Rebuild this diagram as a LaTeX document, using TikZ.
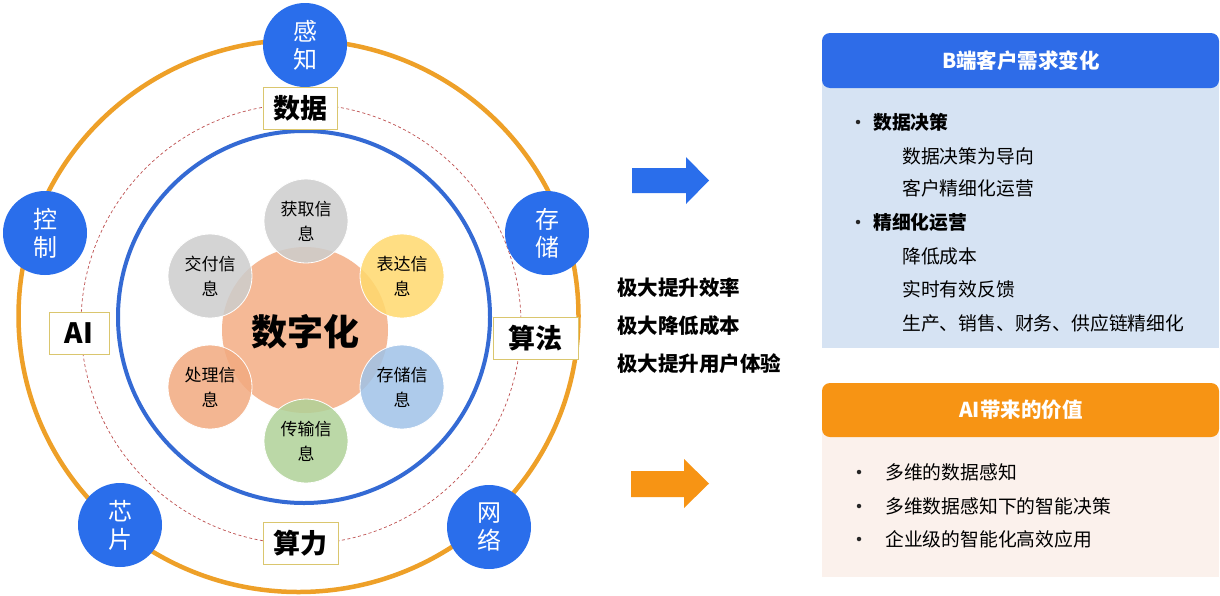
\documentclass[tikz,border=0pt]{standalone}
\usepackage{fontspec}
\setmainfont{Noto Sans CJK SC}
\definecolor{nodeblue}{RGB}{42,110,235}
\definecolor{ringblue}{RGB}{52,106,212}
\definecolor{ringorange}{RGB}{238,160,40}
\definecolor{dashred}{RGB}{190,80,80}
\definecolor{boxgold}{RGB}{218,198,110}
\definecolor{bigsalmon}{RGB}{245,185,150}
\definecolor{cgray}{RGB}{205,205,205}
\definecolor{cyellow}{RGB}{255,217,110}
\definecolor{cblue}{RGB}{160,195,232}
\definecolor{cgreen}{RGB}{176,210,152}
\definecolor{csalmon}{RGB}{242,170,128}
\definecolor{panelblue}{RGB}{46,108,232}
\definecolor{panelbluebody}{RGB}{214,227,243}
\definecolor{panelorange}{RGB}{247,148,20}
\definecolor{panelorangebody}{RGB}{251,241,236}
\begin{document}
\begin{tikzpicture}[x=1pt,y=-1pt,
  bluenode/.style={circle,fill=nodeblue,minimum size=84pt,inner sep=0pt,text=white,align=center,font=\fontsize{24}{28}\selectfont},
  labelbox/.style={rectangle,draw=boxgold,line width=1pt,fill=white,minimum height=42pt,inner sep=0pt,font=\fontsize{27}{30}\bfseries\selectfont},
  petal/.style={circle,draw=white,line width=0.8pt,fill opacity=0.85,text opacity=1,minimum size=84pt,inner sep=0pt,align=center,font=\fontsize{17}{25}\selectfont},
  midtext/.style={anchor=west,inner sep=0pt,font=\fontsize{20.5}{24}\bfseries\selectfont},
  itemtext/.style={anchor=west,inner sep=0pt,font=\fontsize{18.8}{22}\selectfont},
  itembold/.style={anchor=west,inner sep=0pt,font=\fontsize{18.8}{22}\bfseries\selectfont},
  bulletdot/.style={circle,fill=black!85,minimum size=4.5pt,inner sep=0pt},
  headtext/.style={text=white,font=\fontsize{20.5}{24}\bfseries\selectfont}
]
\useasboundingbox (0,0) rectangle (1220,595);
\fill[white] (0,0) rectangle (1220,595);

% rings
\draw[ringorange,line width=4.5pt] (298.5,316) ellipse [x radius=280pt, y radius=276pt];
\draw[dashred,line width=0.7pt,dash pattern=on 3pt off 2.5pt] (301,324) circle [radius=220pt];
\draw[ringblue,line width=4pt] (304,317) circle [radius=186pt];

% centre flower
\node[circle,fill=bigsalmon,minimum size=166pt,inner sep=0pt] (core) at (305,330) {};
\node[petal,fill=cgray] (huoqu) at (306,221) {获取信\\息};
\node[petal,fill=cgray] (jiaofu) at (210,276) {交付信\\息};
\node[petal,fill=cyellow] (biaoda) at (402,276) {表达信\\息};
\node[petal,fill=csalmon] (chuli) at (210,387) {处理信\\息};
\node[petal,fill=cblue] (cunchuxx) at (402,387) {存储信\\息};
\node[petal,fill=cgreen] (chuanshu) at (306,441) {传输信\\息};
\node[font=\fontsize{36}{40}\bfseries\selectfont] (szh) at (305,332) {数字化};

% outer blue nodes
\node[bluenode] (ganzhi) at (305,45) {感\\知};
\node[bluenode] (kongzhi) at (45,233) {控\\制};
\node[bluenode] (cunchu) at (547,233) {存\\储};
\node[bluenode] (xinpian) at (120,525) {芯\\片};
\node[bluenode] (wangluo) at (489,527) {网\\络};

% label boxes
\node[labelbox,minimum width=74pt] (shuju) at (300,108) {数据};
\node[labelbox,minimum width=60pt,font=\fontsize{28}{30}\bfseries\selectfont] (ai) at (79,333) {AI};
\node[labelbox,minimum width=85pt] (suanfa) at (535.5,338) {算法};
\node[labelbox,minimum width=75pt] (suanli) at (300.5,543) {算力};

% arrows
\fill[nodeblue] (632,168) -- (686,168) -- (686,157) -- (709,180.5) -- (686,204) -- (686,193) -- (632,193) -- cycle;
\fill[panelorange] (631,471) -- (684,471) -- (684,459) -- (709,483.5) -- (684,508) -- (684,497) -- (631,497) -- cycle;

% middle text
\node[midtext] (m1) at (617,288) {极大提升效率};
\node[midtext] (m2) at (617,326) {极大降低成本};
\node[midtext] (m3) at (617,364) {极大提升用户体验};

% blue panel
\fill[panelbluebody] (822,80) rectangle (1219,348);
\fill[panelblue,rounded corners=8pt] (822,33) rectangle (1219,88);
\node[headtext] (bhead) at (1021,61) {B端客户需求变化};
\node[bulletdot] (bb1) at (858,122) {};
\node[itembold] (b1) at (873,122) {数据决策};
\node[itemtext] (b11) at (902,156) {数据决策为导向};
\node[itemtext] (b12) at (902,188) {客户精细化运营};
\node[bulletdot] (bb2) at (858,222) {};
\node[itembold] (b2) at (873,222) {精细化运营};
\node[itemtext] (b21) at (902,256) {降低成本};
\node[itemtext] (b22) at (902,289) {实时有效反馈};
\node[itemtext] (b23) at (902,323) {生产、销售、财务、供应链精细化};

% orange panel
\fill[panelorangebody] (822,430) rectangle (1219,577);
\fill[panelorange,rounded corners=8pt] (822,383) rectangle (1219,437);
\node[headtext] (ohead) at (1021,410) {AI带来的价值};
\node[bulletdot] (ob1) at (859,472) {};
\node[itemtext] (o1) at (885,472) {多维的数据感知};
\node[bulletdot] (ob2) at (859,506) {};
\node[itemtext] (o2) at (885,506) {多维数据感知下的智能决策};
\node[bulletdot] (ob3) at (859,539) {};
\node[itemtext] (o3) at (885,539) {企业级的智能化高效应用};
\end{tikzpicture}
\end{document}
